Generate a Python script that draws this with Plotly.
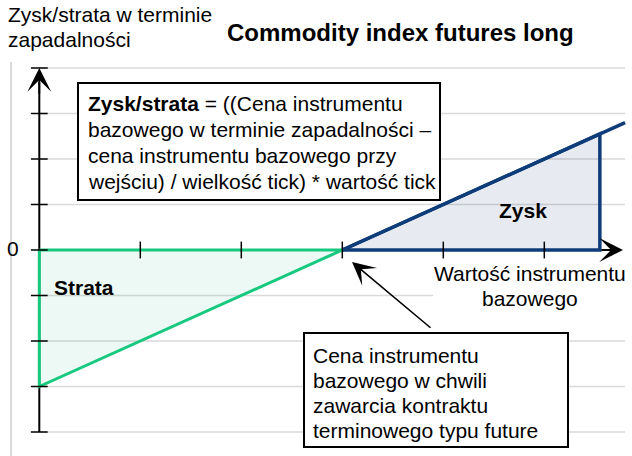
import plotly.graph_objects as go

# ---- data ----
x_ticks = [-2, -1, 0, 1, 2]
y_ticks = [-4, -3, -2, -1, 0, 1, 2, 3, 4]
axis_x = -3
loss_x = [-3, -3, 0, -3]
loss_y = [0, -3, 0, 0]
profit_x = [0, 2.55, 2.55, 0]
profit_y = [0, 2.55, 0, 0]
payoff_x = [0, 2.8]
payoff_y = [0, 2.8]

title_text = "Commodity index futures long"
ytitle_lines = ["Zysk/strata w terminie", "zapadalności"]
xtitle_lines = ["Wartość instrumentu", "bazowego"]
formula_lines = ["<b>Zysk/strata</b> = ((Cena instrumentu",
                 "bazowego w terminie zapadalności –",
                 "cena instrumentu bazowego przy",
                 "wejściu) / wielkość tick) * wartość tick"]
entry_lines = ["Cena instrumentu", "bazowego w chwili",
               "zawarcia kontraktu", "terminowego typu future"]

# ---- geometry (pixel mapping) ----
W, H = 632, 456
L, R, T, B = 12, 0, 62, 0
X0, XS = 342.3, 101.0
Y0, YS = 250.0, 45.5


def px(x):
    return (x - X0) / XS


def py(y):
    return (Y0 - y) / YS


def ppx(x):
    return (x - L) / (W - L - R)


def ppy(y):
    return (H - B - y) / (H - T - B)


xr = [px(L), px(W - R)]
yr = [py(H - B), py(T)]

FONT = "Arial, Liberation Sans, sans-serif"
GREEN = "#17c97f"
GREEN_FILL = "rgba(23,180,120,0.08)"
BLUE = "#0f3d7a"
BLUE_FILL = "rgba(15,61,122,0.10)"
GRID = "#d9d9d9"

fig = go.Figure()

fig.add_trace(go.Scatter(x=loss_x, y=loss_y, mode="lines", fill="toself",
                         fillcolor=GREEN_FILL, line=dict(color=GREEN, width=3),
                         hoverinfo="skip", showlegend=False))
fig.add_trace(go.Scatter(x=profit_x, y=profit_y, mode="lines", fill="toself",
                         fillcolor=BLUE_FILL, line=dict(color=BLUE, width=3.5),
                         hoverinfo="skip", showlegend=False))
fig.add_trace(go.Scatter(x=payoff_x, y=payoff_y, mode="lines",
                         line=dict(color=BLUE, width=3.5),
                         hoverinfo="skip", showlegend=False))
# tick marks
fig.add_trace(go.Scatter(x=x_ticks, y=[0] * len(x_ticks), mode="markers",
                         marker=dict(symbol="line-ns", size=12,
                                     line=dict(color="black", width=1.5)),
                         cliponaxis=False, hoverinfo="skip", showlegend=False))
fig.add_trace(go.Scatter(x=[axis_x] * len(y_ticks), y=y_ticks, mode="markers",
                         marker=dict(symbol="line-ew", size=12,
                                     line=dict(color="black", width=1.5)),
                         cliponaxis=False, hoverinfo="skip", showlegend=False))

shapes = []
# gridlines
for v in y_ticks:
    if v == 0:
        continue
    shapes.append(dict(type="line", xref="x", yref="y", x0=axis_x, x1=px(625),
                       y0=v, y1=v, line=dict(color=GRID, width=1.5),
                       layer="below"))
# axes lines
shapes.append(dict(type="line", xref="x", yref="y", x0=axis_x, x1=axis_x,
                   y0=min(y_ticks), y1=max(y_ticks) - 0.3,
                   line=dict(color="black", width=2), layer="below"))
shapes.append(dict(type="line", xref="x", yref="y", x0=axis_x, x1=profit_x[1],
                   y0=0, y1=0, line=dict(color="black", width=2), layer="below"))
# white background behind the x-axis title
shapes.append(dict(type="rect", xref="x", yref="y", x0=px(433), x1=px(632),
                   y0=py(262), y1=py(311), line=dict(width=0),
                   fillcolor="white", layer="above"))
# text boxes
shapes.append(dict(type="rect", xref="x", yref="y", x0=px(78), x1=px(440),
                   y0=py(83), y1=py(200), line=dict(color="black", width=2),
                   fillcolor="white", layer="above"))
shapes.append(dict(type="rect", xref="x", yref="y", x0=px(304), x1=px(568),
                   y0=py(333), y1=py(447), line=dict(color="black", width=2),
                   fillcolor="white", layer="above"))

ann = []
# axis arrowheads
ann.append(dict(x=axis_x, y=max(y_ticks), ax=axis_x, ay=max(y_ticks) - 0.6,
                xref="x", yref="y", axref="x", ayref="y", text="",
                showarrow=True, arrowhead=3, arrowsize=2.2, arrowwidth=1.8,
                arrowcolor="black"))
ann.append(dict(x=px(623), y=0, ax=profit_x[1], ay=0,
                xref="x", yref="y", axref="x", ayref="y", text="",
                showarrow=True, arrowhead=3, arrowsize=2.2, arrowwidth=1.8,
                arrowcolor="black"))
# pointer arrow to entry price
ann.append(dict(x=px(352), y=py(262), ax=80, ay=67, xref="x", yref="y",
                text="", showarrow=True, arrowhead=3, arrowsize=2.4,
                arrowwidth=1.6, arrowcolor="black"))


def txt(t, x, y, size=21, xanchor="left"):
    ann.append(dict(text=t, x=ppx(x), y=ppy(y), xref="paper", yref="paper",
                    xanchor=xanchor, yanchor="middle", align="left",
                    showarrow=False, font=dict(family=FONT, size=size,
                                               color="black")))


def block(lines, x, y_first, spacing, size=21, xanchor="left"):
    for i, t in enumerate(lines):
        txt(t, x, y_first + i * spacing, size=size, xanchor=xanchor)


txt("<b>" + title_text + "</b>", 400, 32, size=24, xanchor="center")
block(ytitle_lines, 6, 14, 26)
block(xtitle_lines, 530, 273, 25, xanchor="center")
block(formula_lines, 86, 103, 26)
block(entry_lines, 311, 355, 25)
txt("0", 13, 248, xanchor="center")
txt("<b>Strata</b>", 84, 287, xanchor="center")
txt("<b>Zysk</b>", 523, 210, xanchor="center")

fig.update_layout(
    width=W, height=H,
    margin=dict(l=L, r=R, t=T, b=B, pad=0),
    paper_bgcolor="white", plot_bgcolor="white",
    xaxis=dict(range=xr, showgrid=False, zeroline=False, showticklabels=False,
               showline=False, ticks="", fixedrange=True),
    yaxis=dict(range=yr, showgrid=False, zeroline=False, showticklabels=False,
               showline=True, linecolor=GRID, linewidth=2, ticks="",
               fixedrange=True),
    shapes=shapes, annotations=ann, showlegend=False,
)

fig.write_html("out.html", config={"displayModeBar": False},
               post_script="document.body.style.margin='0px';"
                           "document.body.style.overflow='hidden';")
